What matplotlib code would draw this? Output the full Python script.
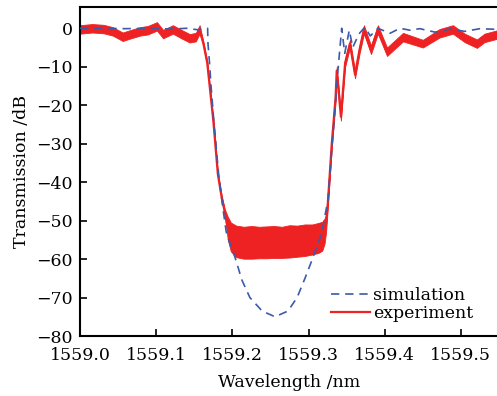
import numpy as np
import matplotlib
matplotlib.use("Agg")
import matplotlib.pyplot as plt

# ==============================
# DATA
# ==============================
# experiment: wavelength, upper / lower edge of the noisy trace (dB)
exp_wl = [1559.000, 1559.016, 1559.031, 1559.043, 1559.056, 1559.067, 1559.079,
          1559.089, 1559.101, 1559.109, 1559.122, 1559.133, 1559.144, 1559.152,
          1559.157, 1559.162, 1559.167, 1559.175, 1559.181, 1559.186, 1559.190,
          # stop band (noise floor)
          1559.194, 1559.198, 1559.205, 1559.215, 1559.225, 1559.235, 1559.245,
          1559.255, 1559.265, 1559.275, 1559.285, 1559.295, 1559.305, 1559.313,
          1559.318, 1559.321, 1559.323,
          # rising edge and ripples
          1559.3255, 1559.3305, 1559.3355, 1559.337, 1559.3425,
          1559.348, 1559.3543, 1559.361, 1559.367, 1559.3727, 1559.382, 1559.391,
          1559.403, 1559.424, 1559.450, 1559.472, 1559.4895, 1559.505, 1559.521,
          1559.531, 1559.550]
exp_upper = [0.8, 1.1, 0.9, 0.3, -1.1, -0.4, 0.3,
             0.6, 1.6, -0.4, 0.8, -0.4, -1.5, -1.2,
             0.8, -3.5, -8.5, -23.5, -37.5, -43.5, -47.0,
             -49.0, -50.5, -51.3, -51.6, -51.4, -51.6, -51.5,
             -51.4, -51.6, -51.2, -51.3, -51.0, -51.0, -50.6,
             -50.3, -49.5, -48.5,
             -44.0, -29.0, -17.0, -10.0, -22.0,
             -8.0, -3.0, -11.0, -4.5, 0.8, -4.5, 0.8,
             -5.0, -1.2, -3.0, -0.2, 0.8, -1.4, -2.9,
             -1.4, -0.4]
exp_lower = [-1.4, -1.1, -1.3, -1.9, -3.3, -2.6, -1.9,
             -1.6, -0.6, -2.6, -1.4, -2.6, -3.7, -3.4,
             -1.4, -4.5, -9.5, -24.5, -38.5, -44.5, -48.5,
             -55.0, -58.0, -59.5, -59.9, -59.9, -59.8, -59.8,
             -59.7, -59.7, -59.6, -59.4, -59.2, -58.8, -58.4,
             -57.8, -56.0, -53.0,
             -46.0, -31.0, -19.0, -12.0, -24.0,
             -10.0, -5.0, -13.0, -6.5, -1.4, -6.7, -1.4,
             -7.2, -3.4, -5.0, -2.4, -1.4, -3.6, -5.1,
             -3.6, -2.6]

# simulation
sim_wl = [1559.000, 1559.030, 1559.060, 1559.090, 1559.120, 1559.140, 1559.155,
          1559.162, 1559.1675, 1559.168, 1559.170, 1559.172, 1559.176, 1559.182,
          1559.187, 1559.192, 1559.196, 1559.2034, 1559.2126, 1559.223, 1559.239,
          1559.256, 1559.273, 1559.285, 1559.2953, 1559.306, 1559.3176, 1559.3255,
          1559.330, 1559.335, 1559.339, 1559.3435, 1559.3475, 1559.3535, 1559.358,
          1559.366, 1559.374, 1559.381, 1559.391, 1559.407, 1559.420, 1559.433,
          1559.446, 1559.466, 1559.486, 1559.505, 1559.525, 1559.550]
sim_db = [0.0, 0.0, -0.1, 0.0, -0.2, 0.0, -0.4,
          0.0, 0.0, -4.0, -9.0, -15.0, -25.0, -38.0,
          -46.0, -53.0, -55.5, -59.5, -65.5, -70.0, -73.5,
          -75.0, -73.5, -70.0, -65.0, -59.5, -53.0, -44.5,
          -33.0, -20.0, -10.0, 0.0, -6.5, -0.5, -5.0,
          -1.5, 0.3, -2.0, 0.0, -1.3, 0.0, -0.5,
          -0.1, -1.0, -0.2, -0.8, -0.1, -0.3]

x_ticks = [1559.0, 1559.1, 1559.2, 1559.3, 1559.4, 1559.5]
y_ticks = [0, -10, -20, -30, -40, -50, -60, -70, -80]

# ==============================
# PLOT
# ==============================
plt.rcParams['font.family'] = ['DejaVu Serif']
plt.rcParams['font.size'] = 12.5

fig = plt.figure(figsize=(4.97, 3.96), dpi=100)
ax = fig.add_axes([0.161, 0.1515, 0.843, 0.8305])

red = '#ee2222'
blue = '#3b5ba8'

exp_upper = np.array(exp_upper)
exp_lower = np.array(exp_lower)
ax.fill_between(exp_wl, exp_lower, exp_upper, color=red, lw=0.6, zorder=2)
ax.plot(exp_wl, (exp_upper + exp_lower) / 2, color=red, lw=1.6, label='experiment', zorder=2)
ax.plot(sim_wl, sim_db, color=blue, lw=1.2, ls=(0, (5, 3.5)), label='simulation', zorder=3)

ax.set_xlim(1559.0, 1559.55)
ax.set_ylim(-80, 5.5)
ax.set_xticks(x_ticks)
ax.set_xticklabels([f"{t:.1f}" for t in x_ticks])
ax.set_yticks(y_ticks)
ax.tick_params(direction='in', length=5, width=1.2, top=False, right=False)
ax.tick_params(axis='y', pad=5.5)
ax.tick_params(axis='x', pad=8)
for s in ax.spines.values():
    s.set_linewidth(1.5)

ax.set_xlabel("Wavelength /nm", labelpad=7)
ax.set_ylabel("Transmission /dB", labelpad=4)

h, l = ax.get_legend_handles_labels()
ax.legend(h[::-1], l[::-1], loc='lower right', frameon=False, handlelength=2.25,
          handletextpad=0.2, labelspacing=0.05, borderaxespad=0.0,
          bbox_to_anchor=(0.955, 0.021))

fig.savefig("out.png", dpi=100)
